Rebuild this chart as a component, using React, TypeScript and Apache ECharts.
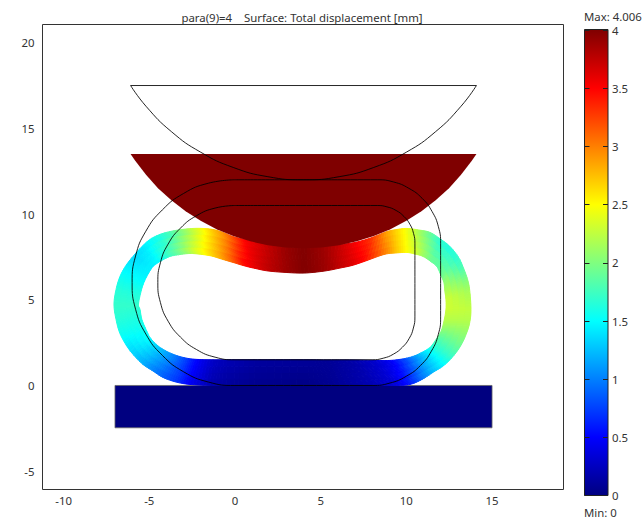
import React, { useEffect, useRef } from "react";
import * as echarts from "echarts";

const xTicks = [-10, -5, 0, 5, 10, 15];
const yTicks = [-5, 0, 5, 10, 15, 20];
const barTicks = [0, 0.5, 1, 1.5, 2, 2.5, 3, 3.5, 4];
const titleText = "para(9)=4    Surface: Total displacement [mm]";
const maxText = "Max: 4.006";
const minText = "Min: 0";
const maxValue = 4.006;

// Jet colour table of the scale: value, colour
const jetValues = [0, 0.5, 1.5, 2.5, 3.5, 4.006];
const jetColors = ["#000080", "#0000ff", "#00ffff", "#ffff00", "#ff0000", "#7f0000"];

// Rigid plate (displacement 0)
const plateX = [-7, 15, 15, -7];
const plateY = [0, 0, -2.47, -2.47];

// Moved indenter (displacement 4)
const punchX = [-6.09, -5.83, -5.19, -4.49, -3.71, -2.88, -2, -1.07, -0.1, 0.89, 1.92, 2.95, 4, 5.05, 6.08, 7.11, 8.1, 9.07, 10, 10.88, 11.71, 12.49, 13.19, 13.83, 14.09];
const punchY = [13.5, 13.12, 12.29, 11.51, 10.81, 10.17, 9.61, 9.12, 8.72, 8.41, 8.18, 8.05, 8, 8.05, 8.18, 8.41, 8.72, 9.12, 9.61, 10.17, 10.81, 11.51, 12.29, 13.12, 13.5];

// Deformed ring, stations round the loop
const outerX = [4, 1.46, -0.29, -1.46, -2.63, -3.44, -4.2, -4.84, -5.37, -5.89, -6.3, -6.71, -6.94, -7.06, -6.94, -6.71, -6.36, -5.95, -5.48, -4.96, -4.38, -3.79, -3.09, -2.45, -1.87, -1.28, -0.7, -0.12, 0.58, 1.46, 2.92, 4.03, 5.25, 6.42, 7.12, 7.99, 8.87, 9.45, 10.03, 10.73, 11.38, 12.02, 12.54, 13.01, 13.3, 13.59, 13.71, 13.77, 13.71, 13.53, 13.18, 12.72, 12.19, 11.55, 10.91, 10.21, 9.33, 7.88, 5.83];
const outerY = [0, 0, 0, 0, 0.06, 0.2, 0.47, 0.88, 1.23, 1.75, 2.28, 3.03, 3.85, 4.73, 5.6, 6.36, 7, 7.53, 8.05, 8.52, 8.81, 8.98, 9.1, 9.16, 9.16, 9.1, 8.93, 8.69, 8.52, 8.34, 8.11, 8.05, 8.17, 8.26, 8.37, 8.63, 8.98, 9.1, 9.16, 9.07, 8.93, 8.52, 8.11, 7.53, 6.94, 6.13, 5.43, 4.43, 3.73, 3.09, 2.33, 1.69, 1.17, 0.76, 0.35, 0.06, 0, 0, 0];
const innerX = [4, 1.46, -0.29, -1.28, -2.22, -2.86, -3.5, -4.08, -4.55, -4.96, -5.19, -5.43, -5.54, -5.63, -5.48, -5.31, -5.08, -4.78, -4.38, -3.79, -3.21, -2.63, -2.16, -1.69, -1.28, -0.7, -0.12, 0.58, 1.17, 1.93, 3.03, 4.08, 5.25, 6.13, 6.83, 7.53, 8.69, 9.39, 10.03, 10.5, 10.97, 11.43, 11.78, 12.02, 12.19, 12.25, 12.31, 12.31, 12.19, 12.02, 11.73, 11.38, 10.91, 10.38, 9.8, 9.04, 8.05, 6.71, 5.25];
const innerY = [1.5, 1.5, 1.5, 1.5, 1.52, 1.6, 1.78, 2.04, 2.36, 2.8, 3.27, 3.85, 4.43, 4.73, 5.48, 6.01, 6.48, 6.94, 7.23, 7.53, 7.64, 7.7, 7.67, 7.61, 7.53, 7.35, 7.18, 6.97, 6.83, 6.68, 6.59, 6.56, 6.68, 6.85, 7, 7.23, 7.64, 7.73, 7.76, 7.67, 7.53, 7.23, 6.94, 6.42, 6.01, 5.48, 5.02, 4.43, 3.73, 3.15, 2.68, 2.22, 1.93, 1.69, 1.55, 1.46, 1.46, 1.49, 1.49];
const outerV = [0.02, 0.05, 0.1, 0.18, 0.45, 0.7, 0.85, 1, 1.15, 1.3, 1.4, 1.55, 1.65, 1.7, 1.65, 1.55, 1.45, 1.35, 1.4, 1.5, 1.6, 1.75, 2, 2.25, 2.45, 2.7, 2.9, 3.15, 3.5, 3.65, 3.9, 4, 3.88, 3.65, 3.5, 3.3, 2.85, 2.65, 2.45, 2.15, 1.9, 1.65, 1.6, 1.65, 1.75, 2, 2.15, 2.25, 2.2, 2.1, 1.95, 1.75, 1.5, 1.25, 0.95, 0.6, 0.35, 0.2, 0.08];
const innerV = [0.1, 0.12, 0.2, 0.28, 0.5, 0.75, 1, 1.2, 1.35, 1.5, 1.55, 1.6, 1.65, 1.7, 1.6, 1.5, 1.45, 1.45, 1.5, 1.75, 1.95, 2.2, 2.4, 2.55, 2.7, 2.9, 3.15, 3.5, 3.6, 3.75, 3.9, 4, 3.9, 3.75, 3.65, 3.5, 3.05, 2.75, 2.5, 2.35, 2.15, 1.95, 1.9, 1.95, 2.1, 2.2, 2.3, 2.3, 2.2, 2, 1.8, 1.6, 1.35, 1.05, 0.75, 0.45, 0.3, 0.15, 0.08];

// Undeformed outlines
const ghostOuterX = [0, -1.55, -3, -4.24, -5.2, -5.8, -6, -5.8, -5.2, -4.24, -3, -1.55, 0, 8, 9.04, 10, 10.83, 11.46, 11.86, 12, 12, 11.87, 11.5, 10.92, 10.15, 9.26, 8.3, 0];
const ghostOuterY = [12, 11.8, 11.2, 10.24, 9, 7.55, 6, 4.45, 3, 1.76, 0.8, 0.2, 0, 0, 0.14, 0.54, 1.17, 2, 2.96, 4, 8.3, 9.26, 10.15, 10.92, 11.5, 11.87, 12, 12];
const ghostInnerX = [0, -1.16, -2.25, -3.18, -3.9, -4.35, -4.5, -4.35, -3.9, -3.18, -2.25, -1.16, 0, 8, 8.65, 9.25, 9.77, 10.17, 10.41, 10.5, 10.5, 10.42, 10.21, 9.86, 9.4, 8.87, 8.3, 0];
const ghostInnerY = [10.5, 10.35, 9.9, 9.18, 8.25, 7.16, 6, 4.84, 3.75, 2.82, 2.1, 1.65, 1.5, 1.5, 1.59, 1.83, 2.23, 2.75, 3.35, 4, 8.3, 8.87, 9.4, 9.86, 10.21, 10.42, 10.5, 10.5];
const ghostArcX = [-6.09, -5.19, -3.71, -2, -0.1, 1.92, 4, 6.08, 8.1, 10, 11.71, 13.19, 14.09];
const ghostArcY = [17.5, 16.29, 14.81, 13.61, 12.72, 12.18, 12, 12.18, 12.72, 13.61, 14.81, 16.29, 17.5];
const ghostChordX = [-6.09, 14.09];
const ghostChordY = [17.5, 17.5];

const FONT = "Noto Sans";
const FONT_SIZE = 11.4;
const TEXT = "#333333";
const LINE = "rgba(0,0,0,0.85)";

function hexRgb(h: string) {
  return [parseInt(h.slice(1, 3), 16), parseInt(h.slice(3, 5), 16), parseInt(h.slice(5, 7), 16)];
}
function jet(v: number) {
  const c = Math.max(0, Math.min(maxValue, v));
  let i = 0;
  while (i < jetValues.length - 2 && c > jetValues[i + 1]) i++;
  const t = (c - jetValues[i]) / (jetValues[i + 1] - jetValues[i]);
  const a = hexRgb(jetColors[i]);
  const b = hexRgb(jetColors[i + 1]);
  return `rgb(${Math.round(a[0] + (b[0] - a[0]) * t)},${Math.round(a[1] + (b[1] - a[1]) * t)},${Math.round(a[2] + (b[2] - a[2]) * t)})`;
}
const zip = (xs: number[], ys: number[]) => xs.map((x, i) => [x, ys[i]]);

function polygonSeries(xs: number[], ys: number[], value: number, stroke: string | null, z: number) {
  return {
    type: "custom",
    coordinateSystem: "cartesian2d",
    xAxisIndex: 0,
    yAxisIndex: 0,
    silent: true,
    clip: false,
    z,
    data: zip(xs, ys),
    encode: { x: 0, y: 1 },
    renderItem: (params: any, api: any) => {
      if (params.dataIndex !== 0) return null;
      const fill = jet(value);
      return {
        type: "polygon",
        shape: { points: xs.map((x, i) => api.coord([x, ys[i]])) },
        style: { fill, stroke: stroke || fill, lineWidth: stroke ? 0.8 : 0 },
      };
    },
  };
}

function ghost(xs: number[], ys: number[], smooth: number | boolean) {
  return {
    type: "line",
    xAxisIndex: 0,
    yAxisIndex: 0,
    data: zip(xs, ys),
    smooth,
    showSymbol: false,
    silent: true,
    z: 10,
    clip: false,
    lineStyle: { color: LINE, width: 1 },
  };
}

const ALONG = 6;
const ACROSS = 4;
const N = outerX.length;

// Catmull-Rom through neighbouring stations, so that the ring's edges are curves
function curve(arr: number[], i: number, t: number) {
  const p0 = arr[(i - 1 + N) % N], p1 = arr[i], p2 = arr[(i + 1) % N], p3 = arr[(i + 2) % N];
  return 0.5 * (2 * p1 + (p2 - p0) * t + (2 * p0 - 5 * p1 + 4 * p2 - p3) * t * t + (3 * p1 - p0 - 3 * p2 + p3) * t * t * t);
}

function ringRender(params: any, api: any) {
  const i = params.dataIndex;
  const j = (i + 1) % N;
  const pos = (a: number, b: number) => {
    const ox = curve(outerX, i, a);
    const oy = curve(outerY, i, a);
    const ix = curve(innerX, i, a);
    const iy = curve(innerY, i, a);
    return api.coord([ox + (ix - ox) * b, oy + (iy - oy) * b]);
  };
  const val = (a: number, b: number) => {
    const o = outerV[i] + (outerV[j] - outerV[i]) * a;
    const n = innerV[i] + (innerV[j] - innerV[i]) * a;
    return o + (n - o) * b;
  };
  const children: any[] = [];
  for (let p = 0; p < ALONG; p++) {
    for (let q = 0; q < ACROSS; q++) {
      const a0 = p / ALONG, a1 = (p + 1) / ALONG, b0 = q / ACROSS, b1 = (q + 1) / ACROSS;
      const fill = jet(val((a0 + a1) / 2, (b0 + b1) / 2));
      children.push({
        type: "polygon",
        shape: { points: [pos(a0, b0), pos(a1, b0), pos(a1, b1), pos(a0, b1)] },
        style: { fill, stroke: fill, lineWidth: 1 },
      });
    }
  }
  return { type: "group", children };
}

export default function App() {
  const ref = useRef<HTMLDivElement>(null);
  useEffect(() => {
    document.body.style.margin = "0";
    const chart = echarts.init(ref.current!, null, { renderer: "svg" });
    const axisLabel = { color: TEXT, fontFamily: FONT, fontSize: FONT_SIZE };
    chart.setOption({
      animation: false,
      backgroundColor: "#ffffff",
      title: {
        text: titleText,
        left: 297,
        top: 7,
        textAlign: "center",
        textStyle: { color: TEXT, fontFamily: FONT, fontSize: FONT_SIZE, fontWeight: "normal" },
      },
      grid: [
        { left: 42.5, top: 24.5, width: 521, height: 465, show: true, borderColor: "#333333", borderWidth: 1, backgroundColor: "#ffffff" },
        { left: 584.5, top: 29.5, width: 23.5, height: 466, show: false },
      ],
      xAxis: [
        {
          type: "value", gridIndex: 0, min: -11.23, max: 19.17,
          axisLine: { show: false }, axisTick: { show: false }, splitLine: { show: false },
          axisLabel: { ...axisLabel, margin: 5, customValues: xTicks },
        },
        { type: "category", gridIndex: 1, data: ["scale"], show: false },
      ],
      yAxis: [
        {
          type: "value", gridIndex: 0, min: -6.07, max: 21.06,
          axisLine: { show: false }, axisTick: { show: false }, splitLine: { show: false },
          axisLabel: { ...axisLabel, margin: 8, padding: [6, 0, 0, 0], customValues: yTicks },
        },
        {
          type: "value", gridIndex: 1, min: 0, max: maxValue, position: "right", z: 6,
          axisLine: { show: false },
          axisTick: { show: true, inside: true, length: 5, lineStyle: { color: "#222222" }, customValues: barTicks },
          splitLine: { show: false },
          axisLabel: { ...axisLabel, margin: 4, padding: [6, 0, 0, 0], customValues: barTicks },
        },
        {
          type: "value", gridIndex: 1, min: 0, max: maxValue, position: "left", z: 6,
          axisLine: { show: false },
          axisTick: { show: true, inside: true, length: 5, lineStyle: { color: "#222222" }, customValues: barTicks },
          splitLine: { show: false },
          axisLabel: { show: false, customValues: barTicks },
        },
      ],
      graphic: [
        { type: "text", x: 584, y: 11, style: { text: maxText, fill: TEXT, font: `${FONT_SIZE}px '${FONT}'` } },
        { type: "text", x: 584, y: 507, style: { text: minText, fill: TEXT, font: `${FONT_SIZE}px '${FONT}'` } },
        { type: "rect", z: 100, shape: { x: 584.5, y: 29.5, width: 23.5, height: 466 }, style: { fill: "none", stroke: "#222222", lineWidth: 1 } },
      ],
      series: [
        polygonSeries(plateX, plateY, 0, "#666666", 2),
        {
          type: "custom",
          coordinateSystem: "cartesian2d",
          xAxisIndex: 0,
          yAxisIndex: 0,
          silent: true,
          clip: false,
          z: 3,
          data: outerX.map((x, i) => [x, outerY[i], innerX[i], innerY[i], outerV[i], innerV[i]]),
          encode: { x: 0, y: 1 },
          renderItem: ringRender,
        },
        polygonSeries(punchX, punchY, maxValue, null, 4),
        ghost(ghostOuterX, ghostOuterY, 0.5),
        ghost(ghostInnerX, ghostInnerY, 0.5),
        ghost(ghostArcX, ghostArcY, 0.5),
        ghost(ghostChordX, ghostChordY, false),
        {
          type: "bar",
          xAxisIndex: 1,
          yAxisIndex: 1,
          data: [maxValue],
          barWidth: "100%",
          silent: true,
          itemStyle: {
            color: new echarts.graphic.LinearGradient(
              0, 1, 0, 0,
              jetValues.map((v, i) => ({ offset: v / maxValue, color: jetColors[i] })),
            ),
          },
        },
      ],
    });
    return () => chart.dispose();
  }, []);
  return <div ref={ref} style={{ position: "fixed", left: 0, top: 0, width: 642, height: 521 }} />;
}
